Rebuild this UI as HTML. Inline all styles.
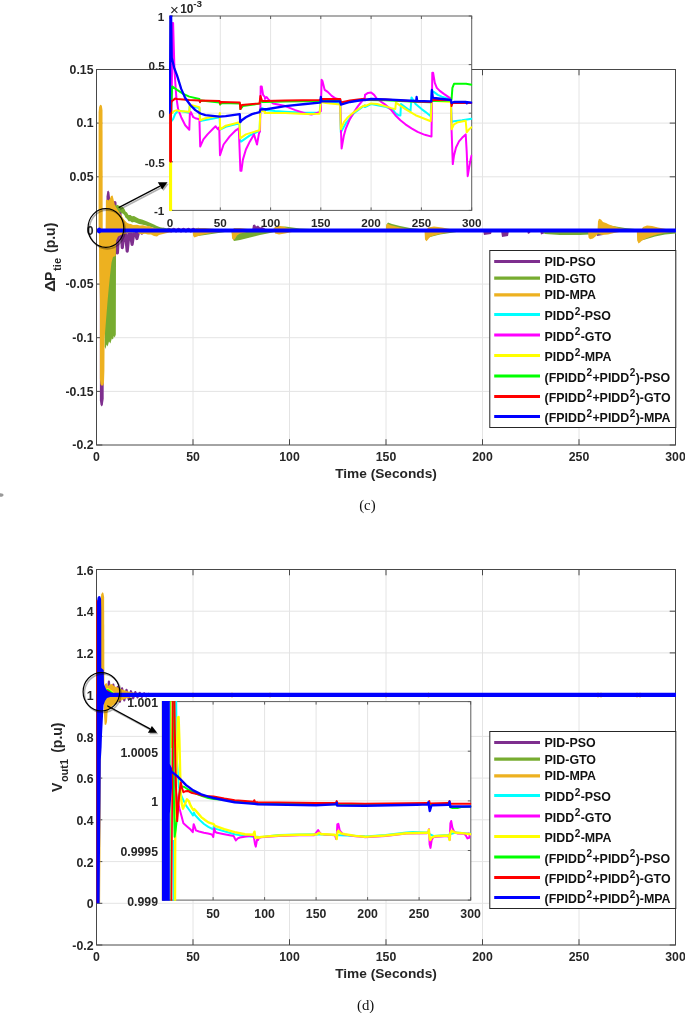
<!DOCTYPE html>
<html><head><meta charset="utf-8"><title>Figure</title>
<style>html,body{margin:0;padding:0;background:#fff}svg{display:block}</style></head>
<body>
<svg width="685" height="1013" viewBox="0 0 685 1013">
<rect width="685" height="1013" fill="#fff"/>
<defs>
<clipPath id="cm1"><rect x="96" y="69" width="580" height="376.5"/></clipPath>
<clipPath id="ci1"><rect x="169" y="15.5" width="303.2" height="195.8"/></clipPath>
<clipPath id="cm2"><rect x="96" y="569" width="580" height="376.5"/></clipPath>
<clipPath id="ci2"><rect x="161.8" y="701.1" width="309.5" height="199.6"/></clipPath>
<filter id="sb" x="-20%" y="-20%" width="140%" height="140%"><feGaussianBlur stdDeviation="0.7"/></filter>
</defs>
<line x1="193" y1="69.5" x2="193" y2="445" stroke="#e4e4e4" stroke-width="1" />
<line x1="289.5" y1="69.5" x2="289.5" y2="445" stroke="#e4e4e4" stroke-width="1" />
<line x1="386" y1="69.5" x2="386" y2="445" stroke="#e4e4e4" stroke-width="1" />
<line x1="482.5" y1="69.5" x2="482.5" y2="445" stroke="#e4e4e4" stroke-width="1" />
<line x1="579" y1="69.5" x2="579" y2="445" stroke="#e4e4e4" stroke-width="1" />
<line x1="96.5" y1="123.1" x2="675.5" y2="123.1" stroke="#e4e4e4" stroke-width="1" />
<line x1="96.5" y1="176.8" x2="675.5" y2="176.8" stroke="#e4e4e4" stroke-width="1" />
<line x1="96.5" y1="230.4" x2="675.5" y2="230.4" stroke="#e4e4e4" stroke-width="1" />
<line x1="96.5" y1="284.1" x2="675.5" y2="284.1" stroke="#e4e4e4" stroke-width="1" />
<line x1="96.5" y1="337.7" x2="675.5" y2="337.7" stroke="#e4e4e4" stroke-width="1" />
<line x1="96.5" y1="391.4" x2="675.5" y2="391.4" stroke="#e4e4e4" stroke-width="1" />
<line x1="96.5" y1="445" x2="96.5" y2="439.2" stroke="#484848" stroke-width="1" />
<line x1="96.5" y1="69.5" x2="96.5" y2="75.3" stroke="#484848" stroke-width="1" />
<line x1="193" y1="445" x2="193" y2="439.2" stroke="#484848" stroke-width="1" />
<line x1="193" y1="69.5" x2="193" y2="75.3" stroke="#484848" stroke-width="1" />
<line x1="289.5" y1="445" x2="289.5" y2="439.2" stroke="#484848" stroke-width="1" />
<line x1="289.5" y1="69.5" x2="289.5" y2="75.3" stroke="#484848" stroke-width="1" />
<line x1="386" y1="445" x2="386" y2="439.2" stroke="#484848" stroke-width="1" />
<line x1="386" y1="69.5" x2="386" y2="75.3" stroke="#484848" stroke-width="1" />
<line x1="482.5" y1="445" x2="482.5" y2="439.2" stroke="#484848" stroke-width="1" />
<line x1="482.5" y1="69.5" x2="482.5" y2="75.3" stroke="#484848" stroke-width="1" />
<line x1="579" y1="445" x2="579" y2="439.2" stroke="#484848" stroke-width="1" />
<line x1="579" y1="69.5" x2="579" y2="75.3" stroke="#484848" stroke-width="1" />
<line x1="675.5" y1="445" x2="675.5" y2="439.2" stroke="#484848" stroke-width="1" />
<line x1="675.5" y1="69.5" x2="675.5" y2="75.3" stroke="#484848" stroke-width="1" />
<line x1="96.5" y1="69.5" x2="102.3" y2="69.5" stroke="#484848" stroke-width="1" />
<line x1="675.5" y1="69.5" x2="669.7" y2="69.5" stroke="#484848" stroke-width="1" />
<line x1="96.5" y1="123.1" x2="102.3" y2="123.1" stroke="#484848" stroke-width="1" />
<line x1="675.5" y1="123.1" x2="669.7" y2="123.1" stroke="#484848" stroke-width="1" />
<line x1="96.5" y1="176.8" x2="102.3" y2="176.8" stroke="#484848" stroke-width="1" />
<line x1="675.5" y1="176.8" x2="669.7" y2="176.8" stroke="#484848" stroke-width="1" />
<line x1="96.5" y1="230.4" x2="102.3" y2="230.4" stroke="#484848" stroke-width="1" />
<line x1="675.5" y1="230.4" x2="669.7" y2="230.4" stroke="#484848" stroke-width="1" />
<line x1="96.5" y1="284.1" x2="102.3" y2="284.1" stroke="#484848" stroke-width="1" />
<line x1="675.5" y1="284.1" x2="669.7" y2="284.1" stroke="#484848" stroke-width="1" />
<line x1="96.5" y1="337.7" x2="102.3" y2="337.7" stroke="#484848" stroke-width="1" />
<line x1="675.5" y1="337.7" x2="669.7" y2="337.7" stroke="#484848" stroke-width="1" />
<line x1="96.5" y1="391.4" x2="102.3" y2="391.4" stroke="#484848" stroke-width="1" />
<line x1="675.5" y1="391.4" x2="669.7" y2="391.4" stroke="#484848" stroke-width="1" />
<line x1="96.5" y1="445" x2="102.3" y2="445" stroke="#484848" stroke-width="1" />
<line x1="675.5" y1="445" x2="669.7" y2="445" stroke="#484848" stroke-width="1" />
<rect x="96.5" y="69.5" width="579" height="375.5" fill="none" stroke="#484848" stroke-width="1"/>
<g clip-path="url(#cm1)"><g transform="translate(0,0.4)">
<polygon points="99.9,230 99.9,400 100.6,404.5 101.7,406 102.8,404.5 103.7,398 103.8,230" fill="#7E2F8E" />
<polygon points="106.4,230 106.5,196 107.3,191 108.4,190 109.4,192 110.2,199 110.4,230" fill="#7E2F8E" />
<polyline points="110,200 112.5,259.1 114.9,202.2 117.4,252.6 119.8,211.3 122.3,247.3 124.7,225.3 127.2,250.7 129.6,227.3 132.1,243.9 134.5,227.9 136.9,238.1 139.4,228.4 141.8,232.6 144.3,228.6 146.7,231.4 149.2,228.7 151.6,231.2 154.1,228.9 156.5,231 159,229 161.4,230.8 163.9,229 166.3,230.6 168.8,229 171.2,230.5 173.7,229 176.1,230.5 178.6,229 181,230.5 183.5,229 185.9,230.5 188.4,229 190.8,230.5 193.3,229 195.7,230.5 198.2,229" fill="none" stroke="#7E2F8E" stroke-width="3.2" stroke-linejoin="round" stroke-linecap="round" />
<polygon points="252,230 253,224.5 255,224 256,226 258,225 260,227 262,226.5 265,228 266,230" fill="#7E2F8E" />
<polygon points="483,230 484,234.5 491,233.7 492,230" fill="#7E2F8E" />
<polygon points="501,230 502,236.5 508,235.7 509,230" fill="#7E2F8E" />
<polygon points="527,230 528,233.5 530,232.7 531,230" fill="#7E2F8E" />
<polygon points="540,230 541,234 544,233.2 545,230" fill="#7E2F8E" />
<polygon points="596,230 597,235.5 603,234.7 604,230" fill="#7E2F8E" />
<polygon points="425,230 426,233 431,232.2 432,230" fill="#7E2F8E" />
<polygon points="104.6,230 104.6,346 105.4,348.5 106.6,344 107.6,346 109,341 110.4,343 111.8,338 113,339 113.8,335.5 114.8,337 115.8,334 116,256 116.2,230" fill="#77AC30" />
<polygon points="114.3,228 114.6,207 115.2,204.3 116.5,205.2 117.8,204.4 119,205.6 120.3,205.3 121.5,206.8 122.8,206.6 124.4,208.4 125.6,211 127,212 128.5,214.5 130.5,214.6 132,215.8 134,215.6 136.7,217 139,218.4 142,219 145.9,220.7 150,222.4 154,224.2 157,225.6 160.2,226.8 166.3,227.8 175,228.5 185,229 185,230.2 175,229.8 166.3,230 160.2,229.6 157,228.8 154,227.7 150,226.4 145.9,225.2 142,224 139,223.7 136.7,222.6 134,221.5 132,222 130.5,220.9 128.5,220.9 127,218.4 125.6,217.4 124.4,214.8 122.8,213 121.5,213.2 120.3,211.7 119,212 117.8,210.8 116.5,211.6 115.2,210.7 114.6,213.4 114.3,231" fill="#77AC30" />
<polygon points="193,230 194,236 198,235.5 205,234.5 215,233 225,231.5 230,230" fill="#77AC30" />
<polygon points="231.5,230 232.5,238 234,240.5 240,239.5 250,237 260,234.5 270,232.5 277,231 280,230" fill="#77AC30" />
<polygon points="386,230 386.5,224 388,222 392,223.5 400,225.5 410,227.5 420,228.5 430,229" fill="#77AC30" />
<polygon points="425,230 426,238 432,236 440,234 450,232.5 460,231" fill="#77AC30" />
<polygon points="540,230 545,233.5 560,234.5 580,234.5 590,234 600,234 610,232 620,231" fill="#77AC30" />
<polygon points="637,230 638,241 645,239 655,236 665,234 676,233 676,230" fill="#77AC30" />
<polygon points="598,230 599,224 610,225 625,227.5 640,229" fill="#77AC30" />
<polygon points="272,230 276,226.5 285,226 300,228 320,229" fill="#77AC30" />
<polygon points="98.6,230 98.6,112 99.1,106.5 100,104.6 101,104.3 101.9,105.5 102.5,110 102.7,230" fill="#EDB120" />
<polygon points="98.9,230 99.2,270 99.9,300 99.9,378 100.4,383.5 101.2,385 103.2,385 104,382 104.4,370 104.6,338 106,320 107.7,299 109,285 110,275 111.5,262 113,256.5 115.6,255.5 116.2,240 118,236 122,234 128,232.5 135,232 135,230" fill="#EDB120" />
<polygon points="105.6,230 105.9,200 107,199 108.5,200 110,198 111,195.5 112.6,195 113.6,199 115,205 116.5,207.5 118.3,210.4 120,213 122,216 124,219 125.4,220.7 127,222.3 129,223.3 131,223.6 133,224.6 137,224.3 140,225.2 143,224.8 146,225.8 149,225.6 153,227.3 158,228.3 164,229 164,230" fill="#EDB120" />
<polygon points="136,230 139,233.3 142,233.8 145,233.4 148,234.2 151,234 154,235.6 157,236 159,234.6 162,233.8 166,232.8 172,231.6 176,230" fill="#EDB120" />
<polygon points="192.5,230 193.2,235.5 194.5,237 197,236 201,234.5 206,233.5 212,232.5 220,231.5 226,230" fill="#EDB120" />
<polygon points="193,230 196,227.5 205,227.5 215,228.5 220,230" fill="#EDB120" />
<polygon points="231.5,230 232,237 233.2,239.8 235,238.5 237,235 240,233 245,232 250,230" fill="#EDB120" />
<polygon points="232,230 234,227.5 240,227.5 248,228.5 252,230" fill="#EDB120" />
<polygon points="272,230 275,226.5 279,225.3 283,226 288,227.5 294,229 298,230" fill="#EDB120" />
<polygon points="274,230 275,233 279,234 285,233 292,231.5 298,230" fill="#EDB120" />
<polygon points="385.8,230 386.3,224.5 387.5,223 390,224.5 394,225.5 400,227 408,228.5 415,230" fill="#EDB120" />
<polygon points="424.5,230 425,239 426.5,240.8 428,239 430,236.5 434,235 440,233.5 448,232 456,230" fill="#EDB120" />
<polygon points="426,230 428,227 434,226 442,227 450,228.5 458,230" fill="#EDB120" />
<polygon points="588,230 588.5,237 590,238.8 593,238 596,235.5 598,233 602,234.5 608,234 614,232.5 622,231 628,230" fill="#EDB120" />
<polygon points="597.5,230 598,221 599,218.3 601,219 603,221.5 606,222.5 609,224 613,225.5 618,227 625,228.5 640,229.5 640,230" fill="#EDB120" />
<polygon points="636.8,230 637.2,240 638.5,243.2 640,242 642,240 646,238 651,236 657,234 664,232.5 672,231 676,230" fill="#EDB120" />
<polygon points="641,230 643,226.5 647,225 652,225.5 658,227 666,228.5 674,229.5 676,230" fill="#EDB120" />
<line x1="98" y1="230.1" x2="676" y2="230.1" stroke="#00FFFF" stroke-width="3.0" />
<line x1="98" y1="230.1" x2="676" y2="230.1" stroke="#FF00FF" stroke-width="3.0" />
<line x1="98" y1="230.1" x2="676" y2="230.1" stroke="#FFFF00" stroke-width="3.0" />
<line x1="98" y1="230.1" x2="676" y2="230.1" stroke="#00FF00" stroke-width="3.0" />
<line x1="98" y1="230.1" x2="676" y2="230.1" stroke="#FF0000" stroke-width="3.0" />
<line x1="97" y1="230.1" x2="676" y2="230.1" stroke="#0000FF" stroke-width="3.8" />
<ellipse cx="99.3" cy="230" rx="1.7" ry="3" fill="#0000FF"/>
</g></g>
<text x="93.5" y="73.8" font-size="12.3" text-anchor="end" font-weight="bold" font-family='"Liberation Sans", Arial, sans-serif' fill="#262626" >0.15</text>
<text x="93.5" y="127.4" font-size="12.3" text-anchor="end" font-weight="bold" font-family='"Liberation Sans", Arial, sans-serif' fill="#262626" >0.1</text>
<text x="93.5" y="181.1" font-size="12.3" text-anchor="end" font-weight="bold" font-family='"Liberation Sans", Arial, sans-serif' fill="#262626" >0.05</text>
<text x="93.5" y="234.7" font-size="12.3" text-anchor="end" font-weight="bold" font-family='"Liberation Sans", Arial, sans-serif' fill="#262626" >0</text>
<text x="93.5" y="288.4" font-size="12.3" text-anchor="end" font-weight="bold" font-family='"Liberation Sans", Arial, sans-serif' fill="#262626" >-0.05</text>
<text x="93.5" y="342" font-size="12.3" text-anchor="end" font-weight="bold" font-family='"Liberation Sans", Arial, sans-serif' fill="#262626" >-0.1</text>
<text x="93.5" y="395.7" font-size="12.3" text-anchor="end" font-weight="bold" font-family='"Liberation Sans", Arial, sans-serif' fill="#262626" >-0.15</text>
<text x="93.5" y="449.3" font-size="12.3" text-anchor="end" font-weight="bold" font-family='"Liberation Sans", Arial, sans-serif' fill="#262626" >-0.2</text>
<text x="96.5" y="460.6" font-size="12.3" text-anchor="middle" font-weight="bold" font-family='"Liberation Sans", Arial, sans-serif' fill="#262626" >0</text>
<text x="193" y="460.6" font-size="12.3" text-anchor="middle" font-weight="bold" font-family='"Liberation Sans", Arial, sans-serif' fill="#262626" >50</text>
<text x="289.5" y="460.6" font-size="12.3" text-anchor="middle" font-weight="bold" font-family='"Liberation Sans", Arial, sans-serif' fill="#262626" >100</text>
<text x="386" y="460.6" font-size="12.3" text-anchor="middle" font-weight="bold" font-family='"Liberation Sans", Arial, sans-serif' fill="#262626" >150</text>
<text x="482.5" y="460.6" font-size="12.3" text-anchor="middle" font-weight="bold" font-family='"Liberation Sans", Arial, sans-serif' fill="#262626" >200</text>
<text x="579" y="460.6" font-size="12.3" text-anchor="middle" font-weight="bold" font-family='"Liberation Sans", Arial, sans-serif' fill="#262626" >250</text>
<text x="675.5" y="460.6" font-size="12.3" text-anchor="middle" font-weight="bold" font-family='"Liberation Sans", Arial, sans-serif' fill="#262626" >300</text>
<text x="386" y="477.7" font-size="13.7" text-anchor="middle" font-weight="bold" font-family='"Liberation Sans", Arial, sans-serif' fill="#262626" >Time (Seconds)</text>
<text transform="translate(55.1,292) rotate(-90) scale(1.2,1)" font-size="14" font-weight="bold" font-family='"Liberation Sans", Arial, sans-serif' fill="#262626">Δ</text>
<text transform="translate(55.1,291.9) rotate(-90)" font-size="14" font-weight="bold" font-family='"Liberation Sans", Arial, sans-serif' fill="#262626"><tspan x="10.9">P</tspan><tspan x="21" dy="5.9" font-size="11.2">tie</tspan><tspan x="38.9" dy="-5.9">(p.u)</tspan></text>
<rect x="170" y="16" width="301.7" height="194.4" fill="#fff"/>
<line x1="220.3" y1="16" x2="220.3" y2="210.4" stroke="#e4e4e4" stroke-width="1" />
<line x1="270.6" y1="16" x2="270.6" y2="210.4" stroke="#e4e4e4" stroke-width="1" />
<line x1="320.8" y1="16" x2="320.8" y2="210.4" stroke="#e4e4e4" stroke-width="1" />
<line x1="371.1" y1="16" x2="371.1" y2="210.4" stroke="#e4e4e4" stroke-width="1" />
<line x1="421.4" y1="16" x2="421.4" y2="210.4" stroke="#e4e4e4" stroke-width="1" />
<line x1="170" y1="64.6" x2="471.7" y2="64.6" stroke="#e4e4e4" stroke-width="1" />
<line x1="170" y1="113.2" x2="471.7" y2="113.2" stroke="#e4e4e4" stroke-width="1" />
<line x1="170" y1="161.8" x2="471.7" y2="161.8" stroke="#e4e4e4" stroke-width="1" />
<line x1="170" y1="210.4" x2="170" y2="207.4" stroke="#5c5c5c" stroke-width="1" />
<line x1="170" y1="16" x2="170" y2="19" stroke="#5c5c5c" stroke-width="1" />
<line x1="220.3" y1="210.4" x2="220.3" y2="207.4" stroke="#5c5c5c" stroke-width="1" />
<line x1="220.3" y1="16" x2="220.3" y2="19" stroke="#5c5c5c" stroke-width="1" />
<line x1="270.6" y1="210.4" x2="270.6" y2="207.4" stroke="#5c5c5c" stroke-width="1" />
<line x1="270.6" y1="16" x2="270.6" y2="19" stroke="#5c5c5c" stroke-width="1" />
<line x1="320.8" y1="210.4" x2="320.8" y2="207.4" stroke="#5c5c5c" stroke-width="1" />
<line x1="320.8" y1="16" x2="320.8" y2="19" stroke="#5c5c5c" stroke-width="1" />
<line x1="371.1" y1="210.4" x2="371.1" y2="207.4" stroke="#5c5c5c" stroke-width="1" />
<line x1="371.1" y1="16" x2="371.1" y2="19" stroke="#5c5c5c" stroke-width="1" />
<line x1="421.4" y1="210.4" x2="421.4" y2="207.4" stroke="#5c5c5c" stroke-width="1" />
<line x1="421.4" y1="16" x2="421.4" y2="19" stroke="#5c5c5c" stroke-width="1" />
<line x1="471.7" y1="210.4" x2="471.7" y2="207.4" stroke="#5c5c5c" stroke-width="1" />
<line x1="471.7" y1="16" x2="471.7" y2="19" stroke="#5c5c5c" stroke-width="1" />
<line x1="170" y1="16" x2="173" y2="16" stroke="#5c5c5c" stroke-width="1" />
<line x1="471.7" y1="16" x2="468.7" y2="16" stroke="#5c5c5c" stroke-width="1" />
<line x1="170" y1="64.6" x2="173" y2="64.6" stroke="#5c5c5c" stroke-width="1" />
<line x1="471.7" y1="64.6" x2="468.7" y2="64.6" stroke="#5c5c5c" stroke-width="1" />
<line x1="170" y1="113.2" x2="173" y2="113.2" stroke="#5c5c5c" stroke-width="1" />
<line x1="471.7" y1="113.2" x2="468.7" y2="113.2" stroke="#5c5c5c" stroke-width="1" />
<line x1="170" y1="161.8" x2="173" y2="161.8" stroke="#5c5c5c" stroke-width="1" />
<line x1="471.7" y1="161.8" x2="468.7" y2="161.8" stroke="#5c5c5c" stroke-width="1" />
<line x1="170" y1="210.4" x2="173" y2="210.4" stroke="#5c5c5c" stroke-width="1" />
<line x1="471.7" y1="210.4" x2="468.7" y2="210.4" stroke="#5c5c5c" stroke-width="1" />
<rect x="170" y="16" width="301.7" height="194.4" fill="none" stroke="#5c5c5c" stroke-width="1"/>
<g clip-path="url(#ci1)">
<polyline points="171.7,120.8 173.1,119.2 175.1,114.1 178.1,110.5 189.3,112.7 189.7,106.1 199.4,108.1 200,121.2 201.4,120.8 214.5,118.2 219.6,117.2 220.2,129.7 225.7,126.9 239.4,123.2 240.2,141.4 241.4,141.4 249.9,135.4 259.6,130.9 260.4,108.1 262.1,108.1 265.1,109.5 265,110.1 275.1,111.1 285.2,111.7 305.4,112.7 319.6,112.7 320.8,101.4 340.2,103.4 340.8,132.3 345.9,123.2 354,113.1 362.1,107.1 364.9,105.4 365,107.1 371.1,104 385.2,106.7 393.3,110.1 395.3,113.1 398.4,115.2 400.4,115.6 401,104 402.4,105 410.5,111.1 411.5,97.4 415.6,104 421.6,109.1 425.7,112.1 430.7,116.2 431.7,90.9 433.8,91.9 437.8,94.9 441.8,96.6 445.9,98 450.9,99 451.6,122.2 454,121.2 462.1,120.2 471.6,118.8" fill="none" stroke="#00FFFF" stroke-width="2.0" stroke-linejoin="round" stroke-linecap="round" />
<polyline points="171.5,113.1 172.7,23.1 173.1,23.1 174.5,70.7 176.3,97 178.1,109.1 181.2,117.2 185.2,125.3 189.3,129.7 189.9,112.1 190.9,112.1 193.3,117.2 195.3,118.2 199.4,119.2 200.2,146.5 203.4,139.4 207.5,134.4 213.5,128.3 215.6,126.3 218,129.3 219.2,127.3 220,155.2 223.6,144.5 229.7,136.4 235.8,130.3 238.8,128.3 240.4,170.8 241.4,170.8 242.9,159.6 245.9,149.5 249.9,141.4 254,134.4 257,144.5 259,133.4 260,131.3 260.7,86.4 261.7,86.4 263.1,94.9 265.1,97.4 265,99 266.6,97 269,100 273.1,103.4 285.2,106.1 295.3,110.1 305.4,113.5 311.5,114.6 319.2,112.1 320.8,111.1 321.6,79.8 322.4,80.8 324.7,89.9 327.7,91.9 331.7,95.9 335.8,98.6 340.2,99.4 341,131.3 341.6,148.5 343.9,135.4 345.9,128.3 349.9,119.2 354,112.1 358,106.1 362.1,101 364.9,97.4 365,94.9 368,92.9 371.1,92.5 374.1,94.9 377.1,99 385.2,104.6 391.3,110.1 395.3,115.2 400.4,120.2 405.4,124.3 411.5,128.3 417.6,131.9 423.6,134.4 425.7,135 430.7,136.4 431.5,136.4 432.3,72.7 433.1,72.7 434.8,82.8 436.8,87.9 439.8,90.9 443.9,93.9 447.9,96.6 450.9,98.6 451.6,131.3 452.8,164.1 454,155.6 456,147.5 459,141.4 462.1,137.8 465.7,134.4 466.7,151.6 467.7,176.2 469.1,167.7 470.6,159.6 471.6,155.6" fill="none" stroke="#FF00FF" stroke-width="2.0" stroke-linejoin="round" stroke-linecap="round" />
<polyline points="170.7,210.4 170.9,113.1 172.1,113.1 174.1,111.1 177.1,110.1 179.2,111.1 189.3,111.7 189.7,105 190.9,105 199.4,107.1 200,120.2 205.4,118.2 214.5,116.6 219.2,116.2 219.8,113.1 220.2,129.3 225.7,125.7 233.8,123.7 239.4,122.2 240.2,138.4 245.9,134.4 254,131.9 259.6,130.3 260.4,109.1 262.1,111.1 265.1,111.7 265,113.1 285.2,113.1 305.4,114.1 319.6,113.7 320.8,102 325.7,103 340.2,104.6 340.8,129.3 343.9,122.2 347.9,117.2 354,112.1 362.1,106.7 364.9,105.4 365,106.1 371.1,103.4 377.1,104 385.2,106.1 391.3,108.1 395.3,109.1 395.9,102.6 405.4,109.1 415.6,115.2 425.7,119.2 430.7,121.2 431.7,100 435.8,101 450.9,102 451.6,129.3 454,124.3 458,122.2 465.7,120.8 466.7,132.3 469.1,129.3 471.6,127.3" fill="none" stroke="#FFFF00" stroke-width="2.0" stroke-linejoin="round" stroke-linecap="round" />
<line x1="170.6" y1="162" x2="170.6" y2="211.2" stroke="#FFFF00" stroke-width="3" />
<polyline points="171.1,113.1 172.1,86.4 177.1,89.9 183.2,93.9 189.3,96.6 199.4,99 200,102 201,100.6 219.6,102.6 220.2,104.6 221.2,103 239.8,103.4 240.4,109.1 242.9,106.1 249.9,105 259.6,103.6 260.4,99 262.1,102 265.1,102 265,102 285.2,101.6 319.6,101 320.8,100 340.2,100 340.8,103.4 349.9,101.4 362.1,100 364.9,99.8 365,100 385.2,100.2 415.6,101.8 430.7,102.2 431.7,101 450.9,100.4 451.6,99 452.4,87.9 454,83.8 466.1,83.8 471.6,84.8" fill="none" stroke="#00FF00" stroke-width="2.0" stroke-linejoin="round" stroke-linecap="round" />
<polyline points="170.7,161.7 170.7,103 172.1,101 175.1,98.6 177.1,99 189.3,100 199.4,100.4 200,102.2 200.8,100.4 219.6,101 220.2,103.4 221,102 239.8,102.6 240.4,109.1 241.8,105 249.9,104.2 259.6,103.4 260.4,95.9 262.1,101 265.1,101 265,101 285.2,100.6 319.6,100 320.8,99 340.2,99 340.8,102.6 349.9,100.6 362.1,99 364.9,99 365,99.4 385.2,99.6 415.6,101.4 430.7,102 431.7,101 432.7,100 450.9,100 451.6,106.1 452.4,103 466.1,103 471.6,103" fill="none" stroke="#FF0000" stroke-width="2.0" stroke-linejoin="round" stroke-linecap="round" />
<line x1="170.6" y1="100" x2="170.6" y2="161.8" stroke="#FF0000" stroke-width="2.8" />
<polyline points="168.6,113.1 169.9,111.1 170.5,14 171.1,14 171.7,57.5 174.1,67.6 177.1,75.7 181.2,88.9 185.2,98 190.3,105 195.3,110.1 200.4,113.5 205.4,115.2 219.6,116.6 225.7,116.2 239.8,114.1 240.2,122.2 241.8,120.2 245.9,117.2 252,114.1 259.6,112.1 260.4,109.5 265.1,109.1 265,109.5 285.2,106.1 305.4,104 319.6,102.6 320.4,102.6 320.8,97 321.4,101.4 340.2,101.4 340.8,104.6 349.9,102 362.1,100 364.9,99.8 365,100 371.1,99 385.2,99.4 415.6,101 416.2,101 416.6,97 417.2,101 430.7,101.4 431.3,101.4 431.9,89.9 432.7,97 433.8,98 450.9,100 451.6,103 454,102 466.1,102 466.7,103.4 467.3,102.2 471.6,102.6" fill="none" stroke="#0000FF" stroke-width="2.3" stroke-linejoin="round" stroke-linecap="round" />
</g>
<text x="164.3" y="20.9" font-size="11.7" text-anchor="end" font-weight="bold" font-family='"Liberation Sans", Arial, sans-serif' fill="#262626" >1</text>
<text x="164.8" y="69.5" font-size="11.7" text-anchor="end" font-weight="bold" font-family='"Liberation Sans", Arial, sans-serif' fill="#262626" >0.5</text>
<text x="164.8" y="118.1" font-size="11.7" text-anchor="end" font-weight="bold" font-family='"Liberation Sans", Arial, sans-serif' fill="#262626" >0</text>
<text x="164.8" y="166.7" font-size="11.7" text-anchor="end" font-weight="bold" font-family='"Liberation Sans", Arial, sans-serif' fill="#262626" >-0.5</text>
<text x="164.3" y="215.3" font-size="11.7" text-anchor="end" font-weight="bold" font-family='"Liberation Sans", Arial, sans-serif' fill="#262626" >-1</text>
<text x="170" y="227.3" font-size="11.7" text-anchor="middle" font-weight="bold" font-family='"Liberation Sans", Arial, sans-serif' fill="#262626" >0</text>
<text x="220.3" y="227.3" font-size="11.7" text-anchor="middle" font-weight="bold" font-family='"Liberation Sans", Arial, sans-serif' fill="#262626" >50</text>
<text x="270.6" y="227.3" font-size="11.7" text-anchor="middle" font-weight="bold" font-family='"Liberation Sans", Arial, sans-serif' fill="#262626" >100</text>
<text x="320.8" y="227.3" font-size="11.7" text-anchor="middle" font-weight="bold" font-family='"Liberation Sans", Arial, sans-serif' fill="#262626" >150</text>
<text x="371.1" y="227.3" font-size="11.7" text-anchor="middle" font-weight="bold" font-family='"Liberation Sans", Arial, sans-serif' fill="#262626" >200</text>
<text x="421.4" y="227.3" font-size="11.7" text-anchor="middle" font-weight="bold" font-family='"Liberation Sans", Arial, sans-serif' fill="#262626" >250</text>
<text x="471.7" y="227.3" font-size="11.7" text-anchor="middle" font-weight="bold" font-family='"Liberation Sans", Arial, sans-serif' fill="#262626" >300</text>
<text x="169.9" y="15" font-size="15" text-anchor="start" font-weight="normal" font-family='"Liberation Sans", Arial, sans-serif' fill="#262626" >×</text>
<text x="180.2" y="13.2" font-size="11.9" text-anchor="start" font-weight="bold" font-family='"Liberation Sans", Arial, sans-serif' fill="#262626" >10</text>
<text x="193.2" y="7.3" font-size="9.9" text-anchor="start" font-weight="bold" font-family='"Liberation Sans", Arial, sans-serif' fill="#262626" >-3</text>
<g opacity="0.3" filter="url(#sb)" transform="translate(1.3,1.5)"><ellipse cx="105.9" cy="228" rx="17.9" ry="19.4" fill="none" stroke="#000" stroke-width="1.6"/><line x1="118.7" y1="207.7" x2="160" y2="186.2" stroke="#000" stroke-width="1.6"/><polygon points="167.5,182.2 157.8,182.3 162.2,189.6" fill="#000"/></g>
<ellipse cx="105.9" cy="228" rx="17.9" ry="19.4" fill="none" stroke="#000" stroke-width="1.2"/>
<line x1="118.7" y1="207.7" x2="160" y2="186.2" stroke="#000" stroke-width="1.3" />
<polygon points="167.5,182.2 157.8,182.3 162.2,189.6" fill="#000" />
<rect x="489.8" y="250.5" width="186" height="177" fill="#fff" stroke="#262626" stroke-width="1"/>
<line x1="494.2" y1="261.5" x2="540" y2="261.5" stroke="#7E2F8E" stroke-width="3.2" />
<text x="544.6" y="265.8" font-size="12.4" text-anchor="start" font-weight="bold" font-family='"Liberation Sans", Arial, sans-serif' fill="#111" >PID-PSO</text>
<line x1="494.2" y1="278.2" x2="540" y2="278.2" stroke="#77AC30" stroke-width="3.2" />
<text x="544.6" y="282.5" font-size="12.4" text-anchor="start" font-weight="bold" font-family='"Liberation Sans", Arial, sans-serif' fill="#111" >PID-GTO</text>
<line x1="494.2" y1="294.9" x2="540" y2="294.9" stroke="#EDB120" stroke-width="3.2" />
<text x="544.6" y="299.2" font-size="12.4" text-anchor="start" font-weight="bold" font-family='"Liberation Sans", Arial, sans-serif' fill="#111" >PID-MPA</text>
<line x1="494.2" y1="314.5" x2="540" y2="314.5" stroke="#00FFFF" stroke-width="3.2" />
<text x="544.6" y="320" font-size="12.4" text-anchor="start" font-weight="bold" font-family='"Liberation Sans", Arial, sans-serif' fill="#111" >PIDD<tspan font-size="10" dy="-5.4" dx="0.6">2</tspan><tspan dy="5.4" dx="0.3">-PSO</tspan></text>
<line x1="494.2" y1="335" x2="540" y2="335" stroke="#FF00FF" stroke-width="3.2" />
<text x="544.6" y="340.5" font-size="12.4" text-anchor="start" font-weight="bold" font-family='"Liberation Sans", Arial, sans-serif' fill="#111" >PIDD<tspan font-size="10" dy="-5.4" dx="0.6">2</tspan><tspan dy="5.4" dx="0.3">-GTO</tspan></text>
<line x1="494.2" y1="355.5" x2="540" y2="355.5" stroke="#FFFF00" stroke-width="3.2" />
<text x="544.6" y="361" font-size="12.4" text-anchor="start" font-weight="bold" font-family='"Liberation Sans", Arial, sans-serif' fill="#111" >PIDD<tspan font-size="10" dy="-5.4" dx="0.6">2</tspan><tspan dy="5.4" dx="0.3">-MPA</tspan></text>
<line x1="494.2" y1="376" x2="540" y2="376" stroke="#00FF00" stroke-width="3.2" />
<text x="544.6" y="381.5" font-size="12.4" text-anchor="start" font-weight="bold" font-family='"Liberation Sans", Arial, sans-serif' fill="#111" >(FPIDD<tspan font-size="10" dy="-5.4" dx="0.6">2</tspan><tspan dy="5.4" dx="0.3">+PIDD</tspan><tspan font-size="10" dy="-5.4" dx="0.6">2</tspan><tspan dy="5.4" dx="0.3">)-PSO</tspan></text>
<line x1="494.2" y1="396.5" x2="540" y2="396.5" stroke="#FF0000" stroke-width="3.2" />
<text x="544.6" y="402" font-size="12.4" text-anchor="start" font-weight="bold" font-family='"Liberation Sans", Arial, sans-serif' fill="#111" >(FPIDD<tspan font-size="10" dy="-5.4" dx="0.6">2</tspan><tspan dy="5.4" dx="0.3">+PIDD</tspan><tspan font-size="10" dy="-5.4" dx="0.6">2</tspan><tspan dy="5.4" dx="0.3">)-GTO</tspan></text>
<line x1="494.2" y1="416.5" x2="540" y2="416.5" stroke="#0000FF" stroke-width="3.2" />
<text x="544.6" y="422" font-size="12.4" text-anchor="start" font-weight="bold" font-family='"Liberation Sans", Arial, sans-serif' fill="#111" >(FPIDD<tspan font-size="10" dy="-5.4" dx="0.6">2</tspan><tspan dy="5.4" dx="0.3">+PIDD</tspan><tspan font-size="10" dy="-5.4" dx="0.6">2</tspan><tspan dy="5.4" dx="0.3">)-MPA</tspan></text>
<line x1="193" y1="569.5" x2="193" y2="945" stroke="#e4e4e4" stroke-width="1" />
<line x1="289.5" y1="569.5" x2="289.5" y2="945" stroke="#e4e4e4" stroke-width="1" />
<line x1="386" y1="569.5" x2="386" y2="945" stroke="#e4e4e4" stroke-width="1" />
<line x1="482.5" y1="569.5" x2="482.5" y2="945" stroke="#e4e4e4" stroke-width="1" />
<line x1="579" y1="569.5" x2="579" y2="945" stroke="#e4e4e4" stroke-width="1" />
<line x1="96.5" y1="611.2" x2="675.5" y2="611.2" stroke="#e4e4e4" stroke-width="1" />
<line x1="96.5" y1="652.9" x2="675.5" y2="652.9" stroke="#e4e4e4" stroke-width="1" />
<line x1="96.5" y1="694.7" x2="675.5" y2="694.7" stroke="#e4e4e4" stroke-width="1" />
<line x1="96.5" y1="736.4" x2="675.5" y2="736.4" stroke="#e4e4e4" stroke-width="1" />
<line x1="96.5" y1="778.1" x2="675.5" y2="778.1" stroke="#e4e4e4" stroke-width="1" />
<line x1="96.5" y1="819.8" x2="675.5" y2="819.8" stroke="#e4e4e4" stroke-width="1" />
<line x1="96.5" y1="861.6" x2="675.5" y2="861.6" stroke="#e4e4e4" stroke-width="1" />
<line x1="96.5" y1="903.3" x2="675.5" y2="903.3" stroke="#e4e4e4" stroke-width="1" />
<line x1="96.5" y1="945" x2="96.5" y2="939.2" stroke="#484848" stroke-width="1" />
<line x1="96.5" y1="569.5" x2="96.5" y2="575.3" stroke="#484848" stroke-width="1" />
<line x1="193" y1="945" x2="193" y2="939.2" stroke="#484848" stroke-width="1" />
<line x1="193" y1="569.5" x2="193" y2="575.3" stroke="#484848" stroke-width="1" />
<line x1="289.5" y1="945" x2="289.5" y2="939.2" stroke="#484848" stroke-width="1" />
<line x1="289.5" y1="569.5" x2="289.5" y2="575.3" stroke="#484848" stroke-width="1" />
<line x1="386" y1="945" x2="386" y2="939.2" stroke="#484848" stroke-width="1" />
<line x1="386" y1="569.5" x2="386" y2="575.3" stroke="#484848" stroke-width="1" />
<line x1="482.5" y1="945" x2="482.5" y2="939.2" stroke="#484848" stroke-width="1" />
<line x1="482.5" y1="569.5" x2="482.5" y2="575.3" stroke="#484848" stroke-width="1" />
<line x1="579" y1="945" x2="579" y2="939.2" stroke="#484848" stroke-width="1" />
<line x1="579" y1="569.5" x2="579" y2="575.3" stroke="#484848" stroke-width="1" />
<line x1="675.5" y1="945" x2="675.5" y2="939.2" stroke="#484848" stroke-width="1" />
<line x1="675.5" y1="569.5" x2="675.5" y2="575.3" stroke="#484848" stroke-width="1" />
<line x1="96.5" y1="569.5" x2="102.3" y2="569.5" stroke="#484848" stroke-width="1" />
<line x1="675.5" y1="569.5" x2="669.7" y2="569.5" stroke="#484848" stroke-width="1" />
<line x1="96.5" y1="611.2" x2="102.3" y2="611.2" stroke="#484848" stroke-width="1" />
<line x1="675.5" y1="611.2" x2="669.7" y2="611.2" stroke="#484848" stroke-width="1" />
<line x1="96.5" y1="652.9" x2="102.3" y2="652.9" stroke="#484848" stroke-width="1" />
<line x1="675.5" y1="652.9" x2="669.7" y2="652.9" stroke="#484848" stroke-width="1" />
<line x1="96.5" y1="694.7" x2="102.3" y2="694.7" stroke="#484848" stroke-width="1" />
<line x1="675.5" y1="694.7" x2="669.7" y2="694.7" stroke="#484848" stroke-width="1" />
<line x1="96.5" y1="736.4" x2="102.3" y2="736.4" stroke="#484848" stroke-width="1" />
<line x1="675.5" y1="736.4" x2="669.7" y2="736.4" stroke="#484848" stroke-width="1" />
<line x1="96.5" y1="778.1" x2="102.3" y2="778.1" stroke="#484848" stroke-width="1" />
<line x1="675.5" y1="778.1" x2="669.7" y2="778.1" stroke="#484848" stroke-width="1" />
<line x1="96.5" y1="819.8" x2="102.3" y2="819.8" stroke="#484848" stroke-width="1" />
<line x1="675.5" y1="819.8" x2="669.7" y2="819.8" stroke="#484848" stroke-width="1" />
<line x1="96.5" y1="861.6" x2="102.3" y2="861.6" stroke="#484848" stroke-width="1" />
<line x1="675.5" y1="861.6" x2="669.7" y2="861.6" stroke="#484848" stroke-width="1" />
<line x1="96.5" y1="903.3" x2="102.3" y2="903.3" stroke="#484848" stroke-width="1" />
<line x1="675.5" y1="903.3" x2="669.7" y2="903.3" stroke="#484848" stroke-width="1" />
<line x1="96.5" y1="945" x2="102.3" y2="945" stroke="#484848" stroke-width="1" />
<line x1="675.5" y1="945" x2="669.7" y2="945" stroke="#484848" stroke-width="1" />
<rect x="96.5" y="569.5" width="579" height="375.5" fill="none" stroke="#484848" stroke-width="1"/>
<g clip-path="url(#cm2)">
<polyline points="104.5,691 106.7,707.7 108.9,681.7 111.1,705.5 113.3,684.6 115.5,703.3 117.7,686.8 119.9,701.7 122.1,688.4 124.3,700.4 126.5,689.8 128.7,699.3 130.9,691.2 133.1,698.3 135.3,692.1 137.5,697.4 139.7,692.8 141.9,696.9 144.1,693.3 146.3,696.4 148.5,693.8" fill="none" stroke="#7E2F8E" stroke-width="2.2" stroke-linejoin="round" stroke-linecap="round" />
<polygon points="104,694 106,686 110,688 114,690 120,694" fill="#77AC30" />
<polygon points="100.6,694 100.6,600 101.2,594.5 102.3,592.3 103.4,593 104.1,597 104.3,640 104.4,694" fill="#EDB120" />
<polygon points="103.8,694 104,715 104.6,724.5 106,725 107,722 107.6,712 109,709 110.5,708 112,706 115,704 118,702 122,700 126,698.5 130,697.5 136,696.5 136,694" fill="#EDB120" />
<polygon points="104.3,694 105,684 106.5,683 108,686 110,684.5 112,684 114,686 116,687 118,687.5 121,689 125,690.5 130,692 136,693 136,694" fill="#EDB120" />
<ellipse cx="193" cy="695" rx="1.6" ry="2.6" fill="#EDB120"/>
<ellipse cx="232" cy="695" rx="1.6" ry="2.6" fill="#EDB120"/>
<ellipse cx="270" cy="695" rx="1.6" ry="2.6" fill="#EDB120"/>
<ellipse cx="386" cy="695" rx="1.6" ry="2.6" fill="#EDB120"/>
<ellipse cx="428.5" cy="695" rx="1.6" ry="2.6" fill="#EDB120"/>
<ellipse cx="598" cy="695" rx="1.6" ry="2.6" fill="#EDB120"/>
<ellipse cx="601" cy="695" rx="1.6" ry="2.6" fill="#EDB120"/>
<ellipse cx="637" cy="695" rx="1.6" ry="2.6" fill="#EDB120"/>
<ellipse cx="640" cy="695" rx="1.6" ry="2.6" fill="#EDB120"/>
<polygon points="105.5,690 107,688 109,688.4 112,690.8 115,693 115,694.5 105.5,694.5" fill="#FFFF00" />
<polygon points="105.5,690.5 107,689 109,689.6 111.5,691.6 114,693.4 114,694.5 105.5,694.5" fill="#00FF00" />
<polygon points="105.5,691 107,690 108.6,690.8 110.5,692.2 112.5,693.6 105.5,694.5" fill="#FF0000" />
<line x1="100.6" y1="750" x2="99.6" y2="903" stroke="#EDB120" stroke-width="1" />
<line x1="97" y1="600" x2="97" y2="903" stroke="#FF0000" stroke-width="1.2" />
<polygon points="97,694 97,602 97.6,597.5 98.8,596 100.2,596.3 101.1,599 101.3,610 101.3,668 103.7,670 104,684 105.5,688 107.2,691 112,693 112,696.5 107,698 105,701 103.6,705 103,716 102,735 101.6,747 100.8,760 100.5,800 100,850 99.6,903.3 96.5,903.3 96.8,694" fill="#0000FF" />
<line x1="100" y1="694.9" x2="676" y2="694.9" stroke="#0000FF" stroke-width="4.1" />
</g>
<text x="93.5" y="574.6" font-size="12.3" text-anchor="end" font-weight="bold" font-family='"Liberation Sans", Arial, sans-serif' fill="#262626" >1.6</text>
<text x="93.5" y="616.3" font-size="12.3" text-anchor="end" font-weight="bold" font-family='"Liberation Sans", Arial, sans-serif' fill="#262626" >1.4</text>
<text x="93.5" y="658" font-size="12.3" text-anchor="end" font-weight="bold" font-family='"Liberation Sans", Arial, sans-serif' fill="#262626" >1.2</text>
<text x="93.5" y="699.8" font-size="12.3" text-anchor="end" font-weight="bold" font-family='"Liberation Sans", Arial, sans-serif' fill="#262626" >1</text>
<text x="93.5" y="741.5" font-size="12.3" text-anchor="end" font-weight="bold" font-family='"Liberation Sans", Arial, sans-serif' fill="#262626" >0.8</text>
<text x="93.5" y="783.2" font-size="12.3" text-anchor="end" font-weight="bold" font-family='"Liberation Sans", Arial, sans-serif' fill="#262626" >0.6</text>
<text x="93.5" y="824.9" font-size="12.3" text-anchor="end" font-weight="bold" font-family='"Liberation Sans", Arial, sans-serif' fill="#262626" >0.4</text>
<text x="93.5" y="866.7" font-size="12.3" text-anchor="end" font-weight="bold" font-family='"Liberation Sans", Arial, sans-serif' fill="#262626" >0.2</text>
<text x="93.5" y="908.4" font-size="12.3" text-anchor="end" font-weight="bold" font-family='"Liberation Sans", Arial, sans-serif' fill="#262626" >0</text>
<text x="93.5" y="950.1" font-size="12.3" text-anchor="end" font-weight="bold" font-family='"Liberation Sans", Arial, sans-serif' fill="#262626" >-0.2</text>
<text x="96.5" y="960.6" font-size="12.3" text-anchor="middle" font-weight="bold" font-family='"Liberation Sans", Arial, sans-serif' fill="#262626" >0</text>
<text x="193" y="960.6" font-size="12.3" text-anchor="middle" font-weight="bold" font-family='"Liberation Sans", Arial, sans-serif' fill="#262626" >50</text>
<text x="289.5" y="960.6" font-size="12.3" text-anchor="middle" font-weight="bold" font-family='"Liberation Sans", Arial, sans-serif' fill="#262626" >100</text>
<text x="386" y="960.6" font-size="12.3" text-anchor="middle" font-weight="bold" font-family='"Liberation Sans", Arial, sans-serif' fill="#262626" >150</text>
<text x="482.5" y="960.6" font-size="12.3" text-anchor="middle" font-weight="bold" font-family='"Liberation Sans", Arial, sans-serif' fill="#262626" >200</text>
<text x="579" y="960.6" font-size="12.3" text-anchor="middle" font-weight="bold" font-family='"Liberation Sans", Arial, sans-serif' fill="#262626" >250</text>
<text x="675.5" y="960.6" font-size="12.3" text-anchor="middle" font-weight="bold" font-family='"Liberation Sans", Arial, sans-serif' fill="#262626" >300</text>
<text x="386" y="977.7" font-size="13.7" text-anchor="middle" font-weight="bold" font-family='"Liberation Sans", Arial, sans-serif' fill="#262626" >Time (Seconds)</text>
<text transform="translate(62,791.9) rotate(-90)" font-size="14" font-weight="bold" font-family='"Liberation Sans", Arial, sans-serif' fill="#262626"><tspan x="0">V</tspan><tspan x="9.8" dy="6.1" font-size="11">out1</tspan><tspan x="39.1" dy="-6.1">(p.u)</tspan></text>
<rect x="162.3" y="701.6" width="308.5" height="198.5" fill="#fff"/>
<line x1="213.1" y1="701.6" x2="213.1" y2="900.1" stroke="#e4e4e4" stroke-width="1" />
<line x1="264.6" y1="701.6" x2="264.6" y2="900.1" stroke="#e4e4e4" stroke-width="1" />
<line x1="316.1" y1="701.6" x2="316.1" y2="900.1" stroke="#e4e4e4" stroke-width="1" />
<line x1="367.6" y1="701.6" x2="367.6" y2="900.1" stroke="#e4e4e4" stroke-width="1" />
<line x1="419.1" y1="701.6" x2="419.1" y2="900.1" stroke="#e4e4e4" stroke-width="1" />
<line x1="162.3" y1="751.2" x2="470.8" y2="751.2" stroke="#e4e4e4" stroke-width="1" />
<line x1="162.3" y1="800.9" x2="470.8" y2="800.9" stroke="#e4e4e4" stroke-width="1" />
<line x1="162.3" y1="850.5" x2="470.8" y2="850.5" stroke="#e4e4e4" stroke-width="1" />
<line x1="213.1" y1="900.1" x2="213.1" y2="897.1" stroke="#5c5c5c" stroke-width="1" />
<line x1="213.1" y1="701.6" x2="213.1" y2="704.6" stroke="#5c5c5c" stroke-width="1" />
<line x1="264.6" y1="900.1" x2="264.6" y2="897.1" stroke="#5c5c5c" stroke-width="1" />
<line x1="264.6" y1="701.6" x2="264.6" y2="704.6" stroke="#5c5c5c" stroke-width="1" />
<line x1="316.1" y1="900.1" x2="316.1" y2="897.1" stroke="#5c5c5c" stroke-width="1" />
<line x1="316.1" y1="701.6" x2="316.1" y2="704.6" stroke="#5c5c5c" stroke-width="1" />
<line x1="367.6" y1="900.1" x2="367.6" y2="897.1" stroke="#5c5c5c" stroke-width="1" />
<line x1="367.6" y1="701.6" x2="367.6" y2="704.6" stroke="#5c5c5c" stroke-width="1" />
<line x1="419.1" y1="900.1" x2="419.1" y2="897.1" stroke="#5c5c5c" stroke-width="1" />
<line x1="419.1" y1="701.6" x2="419.1" y2="704.6" stroke="#5c5c5c" stroke-width="1" />
<line x1="470.6" y1="900.1" x2="470.6" y2="897.1" stroke="#5c5c5c" stroke-width="1" />
<line x1="470.6" y1="701.6" x2="470.6" y2="704.6" stroke="#5c5c5c" stroke-width="1" />
<line x1="162.3" y1="701.6" x2="165.3" y2="701.6" stroke="#5c5c5c" stroke-width="1" />
<line x1="470.8" y1="701.6" x2="467.8" y2="701.6" stroke="#5c5c5c" stroke-width="1" />
<line x1="162.3" y1="751.2" x2="165.3" y2="751.2" stroke="#5c5c5c" stroke-width="1" />
<line x1="470.8" y1="751.2" x2="467.8" y2="751.2" stroke="#5c5c5c" stroke-width="1" />
<line x1="162.3" y1="800.9" x2="165.3" y2="800.9" stroke="#5c5c5c" stroke-width="1" />
<line x1="470.8" y1="800.9" x2="467.8" y2="800.9" stroke="#5c5c5c" stroke-width="1" />
<line x1="162.3" y1="850.5" x2="165.3" y2="850.5" stroke="#5c5c5c" stroke-width="1" />
<line x1="470.8" y1="850.5" x2="467.8" y2="850.5" stroke="#5c5c5c" stroke-width="1" />
<line x1="162.3" y1="900.1" x2="165.3" y2="900.1" stroke="#5c5c5c" stroke-width="1" />
<line x1="470.8" y1="900.1" x2="467.8" y2="900.1" stroke="#5c5c5c" stroke-width="1" />
<rect x="162.3" y="701.6" width="308.5" height="198.5" fill="none" stroke="#5c5c5c" stroke-width="1"/>
<g clip-path="url(#ci2)">
<line x1="173.4" y1="840" x2="173.4" y2="901" stroke="#00FFFF" stroke-width="1.5" />
<polyline points="176.2,700 176.6,757 179,787.8 181.7,796.7 186.1,805.6 190,811 192.3,814.4 193,815.5 193.9,812.5 195,815 199.4,819.8 204,824 208.3,826.9 211.5,828.5 213.5,829.5 213.9,825.9 215,828.6 224.3,831.3 234.7,834.2 245,835.9 254.3,836.9 257.9,836.7 258,837.5 278.7,835 299.4,834.4 316,834.2 364.9,836.3 365,836.5 385.7,835 406.4,832.4 412.6,832.1 427.2,832.4 429.2,833.8 433.4,835.9 447.9,835 456.2,832.4 470.7,833.8" fill="none" stroke="#00FFFF" stroke-width="2.0" stroke-linejoin="round" stroke-linecap="round" />
<polyline points="174.1,775.3 175.5,790 177.5,800 179.4,808.2 181.5,816 183.4,823.3 187,826.5 190.6,829.6 192.8,832.2 193.2,828 193.7,824.2 194.8,827 195.9,830.4 199,831.5 203.9,832.7 208,833.6 211.9,834.4 213.3,837 214.2,828.5 215.5,832 217,832.8 224.3,834.2 233.6,835.9 235.1,839 235.9,840.4 237.8,838.4 239.8,837.5 249.2,835.9 253.7,835.9 255,844.2 255.8,846.6 257,840 257.9,838.4 258,840 259,837.9 261.1,837.3 278.7,835.9 299.4,835.3 313.9,835.3 316,832.8 318.1,830.1 320.2,833.4 324.3,834.6 335.1,835.3 336.1,839 336.7,837.9 337.3,824.5 338.4,823.9 339.8,830.7 342.9,834.2 355.4,836.3 364.9,837.1 365,837.3 385.7,835.9 406.4,833.6 427.2,833.2 428.4,831.7 429,829.2 429.6,844.2 430.5,847.9 431.7,840 433.4,836.9 447.9,835.9 449.1,837.9 449.7,840 450.4,823.4 451.2,821 452.4,827.6 454.1,831.7 457.2,833.4 464.4,833.8 466.1,835.9 467.5,838.4 469.2,837.9 469.6,834.8 468.2,833.4 470.7,834.2" fill="none" stroke="#FF00FF" stroke-width="2.0" stroke-linejoin="round" stroke-linecap="round" />
<line x1="170.9" y1="701" x2="171.4" y2="748" stroke="#FFFF00" stroke-width="1.3" />
<polyline points="175,902 175.2,840 176,790 177.3,740 177.9,717.5 178.6,717 179.4,740 180.1,770 180.8,796.7 182,805 183,808.7 184.5,805 187,799.3 188.8,801 190.6,805.6 193.2,810 194.2,809 195.2,810 201.2,817.1 205,820 208.3,822.4 213.7,824.2 215,825.9 224.3,829.2 234.7,832.1 245,834.2 253.3,834.8 254.5,831.7 255.4,837.9 257.9,837.1 258,837.9 261.1,836.9 278.7,835.5 299.4,834.8 311.9,834.8 317,834.2 319.1,832.8 321.2,834.2 324.3,834.2 334.7,834.8 336.3,835.9 336.7,839 337.6,831.7 338.4,830.7 340.9,833.4 345,834.2 355.4,835.9 364.9,836.7 365,836.9 385.7,835.5 406.4,833.2 427.2,832.8 428.4,832.8 428.8,829.7 429.6,837.9 430.3,840 431.7,837.5 434.4,836.3 447.9,835.5 449.1,835.9 449.5,840 450.4,832.8 451.6,830.7 454.1,832.1 456.2,832.8 464.4,833.4 470.7,834.2" fill="none" stroke="#FFFF00" stroke-width="2.4" stroke-linejoin="round" stroke-linecap="round" />
<line x1="170.1" y1="701" x2="170.1" y2="901" stroke="#00FF00" stroke-width="1" />
<polyline points="173.2,700 173.6,780 174.6,836.7 175.6,830 176.8,819.8 178.5,800 180,789 182,786.5 184.4,787 188,789.5 192,791.5 197,794 203,796.3 208.3,798 213.5,799 224.3,799.8 234.7,801.5 245,802.3 257.9,803.1 258,803.1 316,804 364.9,804.4 365,804.4 427.2,804 449.1,804 450.4,807.3 452,807.9 458.2,807.9 462.4,806.9 470.7,806.5" fill="none" stroke="#00FF00" stroke-width="2.0" stroke-linejoin="round" stroke-linecap="round" />
<polyline points="172.6,700 172.2,800 171.4,902" fill="none" stroke="#FF0000" stroke-width="1.7" stroke-linejoin="round" stroke-linecap="round" />
<polyline points="174.4,700 175.4,767 176.4,800 177.2,821.1 178.3,805 179.8,790 180.8,782.4 182,788 183.4,792.2 185.2,791.3 187.9,790.9 190,792 192.3,793.1 197.5,794 204.5,796 209,796.2 213.5,796.5 224.3,798.6 234.7,800.2 245,801.1 253.7,801.7 254.3,800.2 255,801.9 257.9,802.3 258,802.3 316,803.1 335.9,803.1 336.7,801.1 337.6,803.3 364.9,803.8 365,803.8 427.2,803.1 428.8,803.1 429.2,801.1 429.8,803.6 447.9,803.1 449.1,803.1 449.5,801.1 450.1,803.8 470.7,803.8" fill="none" stroke="#FF0000" stroke-width="2.0" stroke-linejoin="round" stroke-linecap="round" />
<polygon points="162,701 169.8,701 169.8,764 171.9,768 171.9,788 169.8,814 169.8,901 162,901" fill="#0000FF" />
<polyline points="170.5,770.5 171.9,771.8 177.2,776.2 181.7,780.7 186.1,785.1 193.2,790.4 201.2,794.4 208.3,796.7 213.6,798 224.3,800.2 234.7,802.3 245,803.1 254.3,803.8 257.9,804.2 258,804.2 316,805.2 334.7,804.4 336.3,804.4 336.7,802.7 337.1,805.6 364.9,805.8 365,805.8 416.8,804.8 427.8,804.4 428.4,802.3 429.8,811 431.3,805.8 432.3,805.2 447.9,804.8 449.1,804.8 449.5,801.7 450.4,806.9 452,806.5 470.7,806.5" fill="none" stroke="#0000FF" stroke-width="2.4" stroke-linejoin="round" stroke-linecap="round" />
</g>
<text x="158" y="707.1" font-size="12.3" text-anchor="end" font-weight="bold" font-family='"Liberation Sans", Arial, sans-serif' fill="#262626" >1.001</text>
<text x="158" y="756.7" font-size="12.3" text-anchor="end" font-weight="bold" font-family='"Liberation Sans", Arial, sans-serif' fill="#262626" >1.0005</text>
<text x="158" y="806.4" font-size="12.3" text-anchor="end" font-weight="bold" font-family='"Liberation Sans", Arial, sans-serif' fill="#262626" >1</text>
<text x="158" y="856" font-size="12.3" text-anchor="end" font-weight="bold" font-family='"Liberation Sans", Arial, sans-serif' fill="#262626" >0.9995</text>
<text x="158" y="905.6" font-size="12.3" text-anchor="end" font-weight="bold" font-family='"Liberation Sans", Arial, sans-serif' fill="#262626" >0.999</text>
<text x="213.1" y="917.6" font-size="12.3" text-anchor="middle" font-weight="bold" font-family='"Liberation Sans", Arial, sans-serif' fill="#262626" >50</text>
<text x="264.6" y="917.6" font-size="12.3" text-anchor="middle" font-weight="bold" font-family='"Liberation Sans", Arial, sans-serif' fill="#262626" >100</text>
<text x="316.1" y="917.6" font-size="12.3" text-anchor="middle" font-weight="bold" font-family='"Liberation Sans", Arial, sans-serif' fill="#262626" >150</text>
<text x="367.6" y="917.6" font-size="12.3" text-anchor="middle" font-weight="bold" font-family='"Liberation Sans", Arial, sans-serif' fill="#262626" >200</text>
<text x="419.1" y="917.6" font-size="12.3" text-anchor="middle" font-weight="bold" font-family='"Liberation Sans", Arial, sans-serif' fill="#262626" >250</text>
<text x="470.6" y="917.6" font-size="12.3" text-anchor="middle" font-weight="bold" font-family='"Liberation Sans", Arial, sans-serif' fill="#262626" >300</text>
<g opacity="0.3" filter="url(#sb)" transform="translate(1.3,1.5)"><ellipse cx="101.4" cy="691.8" rx="18.3" ry="19.2" fill="none" stroke="#000" stroke-width="1.6"/><line x1="107.2" y1="705.7" x2="150" y2="728.9" stroke="#000" stroke-width="1.6"/><polygon points="157.1,732.7 147.9,732.7 151.9,726.1" fill="#000"/></g>
<ellipse cx="101.4" cy="691.8" rx="18.3" ry="19.2" fill="none" stroke="#000" stroke-width="1.2"/>
<line x1="107.2" y1="705.7" x2="150" y2="728.9" stroke="#000" stroke-width="1.3" />
<polygon points="157.1,732.7 147.9,732.7 151.9,726.1" fill="#000" />
<rect x="489.8" y="731.5" width="186" height="177" fill="#fff" stroke="#262626" stroke-width="1"/>
<line x1="494.2" y1="742.5" x2="540" y2="742.5" stroke="#7E2F8E" stroke-width="3.2" />
<text x="544.6" y="746.8" font-size="12.4" text-anchor="start" font-weight="bold" font-family='"Liberation Sans", Arial, sans-serif' fill="#111" >PID-PSO</text>
<line x1="494.2" y1="759.2" x2="540" y2="759.2" stroke="#77AC30" stroke-width="3.2" />
<text x="544.6" y="763.5" font-size="12.4" text-anchor="start" font-weight="bold" font-family='"Liberation Sans", Arial, sans-serif' fill="#111" >PID-GTO</text>
<line x1="494.2" y1="775.9" x2="540" y2="775.9" stroke="#EDB120" stroke-width="3.2" />
<text x="544.6" y="780.2" font-size="12.4" text-anchor="start" font-weight="bold" font-family='"Liberation Sans", Arial, sans-serif' fill="#111" >PID-MPA</text>
<line x1="494.2" y1="795.5" x2="540" y2="795.5" stroke="#00FFFF" stroke-width="3.2" />
<text x="544.6" y="801" font-size="12.4" text-anchor="start" font-weight="bold" font-family='"Liberation Sans", Arial, sans-serif' fill="#111" >PIDD<tspan font-size="10" dy="-5.4" dx="0.6">2</tspan><tspan dy="5.4" dx="0.3">-PSO</tspan></text>
<line x1="494.2" y1="816" x2="540" y2="816" stroke="#FF00FF" stroke-width="3.2" />
<text x="544.6" y="821.5" font-size="12.4" text-anchor="start" font-weight="bold" font-family='"Liberation Sans", Arial, sans-serif' fill="#111" >PIDD<tspan font-size="10" dy="-5.4" dx="0.6">2</tspan><tspan dy="5.4" dx="0.3">-GTO</tspan></text>
<line x1="494.2" y1="836.5" x2="540" y2="836.5" stroke="#FFFF00" stroke-width="3.2" />
<text x="544.6" y="842" font-size="12.4" text-anchor="start" font-weight="bold" font-family='"Liberation Sans", Arial, sans-serif' fill="#111" >PIDD<tspan font-size="10" dy="-5.4" dx="0.6">2</tspan><tspan dy="5.4" dx="0.3">-MPA</tspan></text>
<line x1="494.2" y1="857" x2="540" y2="857" stroke="#00FF00" stroke-width="3.2" />
<text x="544.6" y="862.5" font-size="12.4" text-anchor="start" font-weight="bold" font-family='"Liberation Sans", Arial, sans-serif' fill="#111" >(FPIDD<tspan font-size="10" dy="-5.4" dx="0.6">2</tspan><tspan dy="5.4" dx="0.3">+PIDD</tspan><tspan font-size="10" dy="-5.4" dx="0.6">2</tspan><tspan dy="5.4" dx="0.3">)-PSO</tspan></text>
<line x1="494.2" y1="877.5" x2="540" y2="877.5" stroke="#FF0000" stroke-width="3.2" />
<text x="544.6" y="883" font-size="12.4" text-anchor="start" font-weight="bold" font-family='"Liberation Sans", Arial, sans-serif' fill="#111" >(FPIDD<tspan font-size="10" dy="-5.4" dx="0.6">2</tspan><tspan dy="5.4" dx="0.3">+PIDD</tspan><tspan font-size="10" dy="-5.4" dx="0.6">2</tspan><tspan dy="5.4" dx="0.3">)-GTO</tspan></text>
<line x1="494.2" y1="897.5" x2="540" y2="897.5" stroke="#0000FF" stroke-width="3.2" />
<text x="544.6" y="903" font-size="12.4" text-anchor="start" font-weight="bold" font-family='"Liberation Sans", Arial, sans-serif' fill="#111" >(FPIDD<tspan font-size="10" dy="-5.4" dx="0.6">2</tspan><tspan dy="5.4" dx="0.3">+PIDD</tspan><tspan font-size="10" dy="-5.4" dx="0.6">2</tspan><tspan dy="5.4" dx="0.3">)-MPA</tspan></text>
<text x="367.4" y="510" font-size="14.8" text-anchor="middle" font-weight="normal" font-family='"Liberation Serif", "Times New Roman", serif' fill="#111" >(c)</text>
<text x="365.6" y="1009.7" font-size="14.8" text-anchor="middle" font-weight="normal" font-family='"Liberation Serif", "Times New Roman", serif' fill="#111" >(d)</text>
<ellipse cx="0.5" cy="495" rx="3" ry="1.8" fill="#999"/>
</svg>
</body></html>
